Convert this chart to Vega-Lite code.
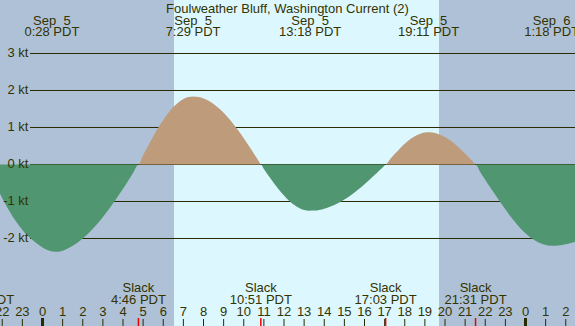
{
  "$schema": "https://vega.github.io/schema/vega-lite/v6.json",
  "width": 575,
  "height": 326,
  "autosize": {"type": "none"},
  "padding": 0,
  "background": "#afc1d6",
  "config": {
    "view": {"stroke": null},
    "text": {"font": "Liberation Sans", "fontSize": 13, "color": "#333300"}
  },
  "data": {"values": [
      {"t": -2.95, "v": 0}, {"t": -2.75, "v": -0.12}, {"t": -2.5, "v": -0.38}, {"t": -2.25, "v": -0.64},
      {"t": -2.0, "v": -0.91}, {"t": -1.75, "v": -1.16}, {"t": -1.5, "v": -1.39}, {"t": -1.25, "v": -1.59},
      {"t": -1.0, "v": -1.77}, {"t": -0.75, "v": -1.92}, {"t": -0.5, "v": -2.04}, {"t": -0.25, "v": -2.15},
      {"t": 0, "v": -2.24}, {"t": 0.25, "v": -2.31}, {"t": 0.5, "v": -2.35}, {"t": 0.75, "v": -2.355},
      {"t": 1.0, "v": -2.33}, {"t": 1.25, "v": -2.27}, {"t": 1.5, "v": -2.194}, {"t": 1.75, "v": -2.105},
      {"t": 2.0, "v": -2.0}, {"t": 2.25, "v": -1.877}, {"t": 2.5, "v": -1.738}, {"t": 2.75, "v": -1.586},
      {"t": 3.0, "v": -1.42}, {"t": 3.25, "v": -1.241}, {"t": 3.5, "v": -1.053}, {"t": 3.75, "v": -0.857},
      {"t": 4.0, "v": -0.653}, {"t": 4.25, "v": -0.443}, {"t": 4.5, "v": -0.23}, {"t": 4.767, "v": 0},
      {"t": 5.0, "v": 0.247}, {"t": 5.25, "v": 0.507}, {"t": 5.5, "v": 0.757}, {"t": 5.75, "v": 0.991},
      {"t": 6.0, "v": 1.204}, {"t": 6.25, "v": 1.392}, {"t": 6.5, "v": 1.551}, {"t": 6.75, "v": 1.677},
      {"t": 7.0, "v": 1.769}, {"t": 7.25, "v": 1.823}, {"t": 7.5, "v": 1.84}, {"t": 7.75, "v": 1.826},
      {"t": 8.0, "v": 1.787}, {"t": 8.25, "v": 1.724}, {"t": 8.5, "v": 1.637}, {"t": 8.75, "v": 1.528},
      {"t": 9.0, "v": 1.398}, {"t": 9.25, "v": 1.249}, {"t": 9.5, "v": 1.084}, {"t": 9.75, "v": 0.904},
      {"t": 10.0, "v": 0.71}, {"t": 10.25, "v": 0.508}, {"t": 10.5, "v": 0.3}, {"t": 10.75, "v": 0.086},
      {"t": 10.85, "v": 0}, {"t": 11.0, "v": -0.12}, {"t": 11.25, "v": -0.317}, {"t": 11.5, "v": -0.506},
      {"t": 11.75, "v": -0.682}, {"t": 12.0, "v": -0.84}, {"t": 12.25, "v": -0.977}, {"t": 12.5, "v": -1.089},
      {"t": 12.75, "v": -1.173}, {"t": 13.0, "v": -1.227}, {"t": 13.25, "v": -1.249}, {"t": 13.5, "v": -1.246},
      {"t": 13.75, "v": -1.228}, {"t": 14.0, "v": -1.197}, {"t": 14.25, "v": -1.152}, {"t": 14.5, "v": -1.095},
      {"t": 14.75, "v": -1.026}, {"t": 15.0, "v": -0.946}, {"t": 15.25, "v": -0.856}, {"t": 15.5, "v": -0.756},
      {"t": 15.75, "v": -0.647}, {"t": 16.0, "v": -0.532}, {"t": 16.25, "v": -0.412}, {"t": 16.5, "v": -0.285},
      {"t": 16.75, "v": -0.157}, {"t": 17.0, "v": -0.026}, {"t": 17.05, "v": 0}, {"t": 17.25, "v": 0.128},
      {"t": 17.5, "v": 0.283}, {"t": 17.75, "v": 0.429}, {"t": 18.0, "v": 0.56}, {"t": 18.25, "v": 0.673},
      {"t": 18.5, "v": 0.762}, {"t": 18.75, "v": 0.826}, {"t": 19.0, "v": 0.862}, {"t": 19.25, "v": 0.869},
      {"t": 19.5, "v": 0.85}, {"t": 19.75, "v": 0.807}, {"t": 20.0, "v": 0.742}, {"t": 20.25, "v": 0.655},
      {"t": 20.5, "v": 0.55}, {"t": 20.75, "v": 0.429}, {"t": 21.0, "v": 0.296}, {"t": 21.25, "v": 0.155},
      {"t": 21.5, "v": 0.01}, {"t": 21.517, "v": 0}, {"t": 21.75, "v": -0.2}, {"t": 22.0, "v": -0.41},
      {"t": 22.25, "v": -0.62}, {"t": 22.5, "v": -0.82}, {"t": 22.75, "v": -1.02}, {"t": 23.0, "v": -1.21},
      {"t": 23.25, "v": -1.4}, {"t": 23.5, "v": -1.57}, {"t": 23.75, "v": -1.73}, {"t": 24.0, "v": -1.86},
      {"t": 24.25, "v": -1.97}, {"t": 24.5, "v": -2.06}, {"t": 24.75, "v": -2.13}, {"t": 25.0, "v": -2.175},
      {"t": 25.25, "v": -2.197}, {"t": 25.5, "v": -2.197}, {"t": 25.75, "v": -2.182}, {"t": 26.0, "v": -2.155},
      {"t": 26.25, "v": -2.12}, {"t": 26.5, "v": -2.08}
  ]},
  "layer": [
    {
      "data": {"values": [{"start": 6.534, "end": 19.702}]},
      "mark": {"type": "rect", "color": "#ddf7ff"},
      "encoding": {
        "x": {"field": "start", "type": "quantitative", "axis": null,
              "scale": {"domain": [-2.1118, 26.4596], "nice": false, "zero": false}},
        "x2": {"field": "end"}
      }
    },
    {
      "data": {"values": [
        {"v": 3, "label": "3 kt"}, {"v": 2, "label": "2 kt"}, {"v": 1, "label": "1 kt"},
        {"v": 0, "label": "0 kt"}, {"v": -1, "label": "-1 kt"}, {"v": -2, "label": "-2 kt"}
      ]},
      "mark": {"type": "rule", "color": "#2a2a00", "strokeWidth": 1},
      "encoding": {
        "y": {"field": "v", "type": "quantitative", "axis": null,
              "scale": {"domain": [-4.3649, 4.4459], "nice": false, "zero": false}},
        "x": {"datum": -0.6211, "type": "quantitative", "axis": null},
        "x2": {"datum": 26.4596}
      }
    },
    {
      "transform": [{"filter": "datum.v >= 0"}],
      "mark": {"type": "area", "interpolate": "monotone", "color": "#be9b7a", "clip": true},
      "encoding": {
        "x": {"field": "t", "type": "quantitative", "axis": null},
        "y": {"field": "v", "type": "quantitative", "axis": null},
        "y2": {"datum": 0}
      }
    },
    {
      "transform": [{"filter": "datum.v <= 0"}],
      "mark": {"type": "area", "interpolate": "monotone", "color": "#509670", "clip": true},
      "encoding": {
        "x": {"field": "t", "type": "quantitative", "axis": null},
        "y": {"field": "v", "type": "quantitative", "axis": null},
        "y2": {"datum": 0}
      }
    },
    {
      "data": {"values": [
        {"v": 3, "label": "3 kt"}, {"v": 2, "label": "2 kt"}, {"v": 1, "label": "1 kt"},
        {"v": 0, "label": "0 kt"}, {"v": -1, "label": "-1 kt"}, {"v": -2, "label": "-2 kt"}
      ]},
      "mark": {"type": "text", "align": "right", "baseline": "alphabetic", "dy": 3.2,
               "font": "Liberation Sans", "fontSize": 13, "color": "#333300"},
      "encoding": {
        "x": {"datum": -0.6957, "type": "quantitative", "axis": null},
        "y": {"field": "v", "type": "quantitative", "axis": null},
        "text": {"field": "label"}
      }
    },
    {
      "data": {"values": [{"label": "Foulweather Bluff, Washington Current (2)"}]},
      "mark": {"type": "text", "align": "center", "baseline": "alphabetic",
               "font": "Liberation Sans", "fontSize": 13, "color": "#333300"},
      "encoding": {
        "x": {"datum": 12.174, "type": "quantitative", "axis": null},
        "y": {"datum": 4.1, "type": "quantitative", "axis": null},
        "text": {"field": "label"}
      }
    },
    {
      "data": {"values": [
        {"t": -2, "label": "22", "midnight": false}, {"t": -1, "label": "23", "midnight": false},
        {"t": 0, "label": "0", "midnight": true}, {"t": 1, "label": "1", "midnight": false},
        {"t": 2, "label": "2", "midnight": false}, {"t": 3, "label": "3", "midnight": false},
        {"t": 4, "label": "4", "midnight": false}, {"t": 5, "label": "5", "midnight": false},
        {"t": 6, "label": "6", "midnight": false}, {"t": 7, "label": "7", "midnight": false},
        {"t": 8, "label": "8", "midnight": false}, {"t": 9, "label": "9", "midnight": false},
        {"t": 10, "label": "10", "midnight": false}, {"t": 11, "label": "11", "midnight": false},
        {"t": 12, "label": "12", "midnight": false}, {"t": 13, "label": "13", "midnight": false},
        {"t": 14, "label": "14", "midnight": false}, {"t": 15, "label": "15", "midnight": false},
        {"t": 16, "label": "16", "midnight": false}, {"t": 17, "label": "17", "midnight": false},
        {"t": 18, "label": "18", "midnight": false}, {"t": 19, "label": "19", "midnight": false},
        {"t": 20, "label": "20", "midnight": false}, {"t": 21, "label": "21", "midnight": false},
        {"t": 22, "label": "22", "midnight": false}, {"t": 23, "label": "23", "midnight": false},
        {"t": 24, "label": "0", "midnight": true}, {"t": 25, "label": "1", "midnight": false},
        {"t": 26, "label": "2", "midnight": false}
      ]},
      "layer": [
        {
          "transform": [{"filter": "!datum.midnight"}],
          "mark": {"type": "rule", "color": "#2a2a00", "strokeWidth": 1},
          "encoding": {
            "x": {"field": "t", "type": "quantitative", "axis": null},
            "y": {"datum": -4.1757, "type": "quantitative", "axis": null},
            "y2": {"datum": -4.3649}
          }
        },
        {
          "transform": [{"filter": "datum.midnight"}],
          "mark": {"type": "rule", "color": "#2a2a00", "strokeWidth": 3},
          "encoding": {
            "x": {"field": "t", "type": "quantitative", "axis": null},
            "y": {"datum": -4.1486, "type": "quantitative", "axis": null},
            "y2": {"datum": -4.3649}
          }
        },
        {
          "mark": {"type": "text", "align": "center", "baseline": "alphabetic",
                   "font": "Liberation Sans", "fontSize": 13, "color": "#333300"},
          "encoding": {
            "x": {"field": "t", "type": "quantitative", "axis": null},
            "y": {"datum": -4.1081, "type": "quantitative", "axis": null},
            "text": {"field": "label"}
          }
        }
      ]
    },
    {
      "data": {"values": [
        {"t": -2.95, "time": "21:03 PDT"}, {"t": 4.767, "time": "4:46 PDT"},
        {"t": 10.85, "time": "10:51 PDT"}, {"t": 17.05, "time": "17:03 PDT"},
        {"t": 21.517, "time": "21:31 PDT"}
      ]},
      "layer": [
        {
          "mark": {"type": "rule", "color": "#ee0000", "strokeWidth": 1.5},
          "encoding": {
            "x": {"field": "t", "type": "quantitative", "axis": null},
            "y": {"datum": -4.1486, "type": "quantitative", "axis": null},
            "y2": {"datum": -4.3649}
          }
        },
        {
          "mark": {"type": "text", "align": "center", "baseline": "alphabetic",
                   "font": "Liberation Sans", "fontSize": 13, "color": "#333300"},
          "encoding": {
            "x": {"field": "t", "type": "quantitative", "axis": null},
            "y": {"datum": -3.4459, "type": "quantitative", "axis": null},
            "text": {"value": "Slack"}
          }
        },
        {
          "mark": {"type": "text", "align": "center", "baseline": "alphabetic", "dy": 12.3,
                   "font": "Liberation Sans", "fontSize": 13, "color": "#333300"},
          "encoding": {
            "x": {"field": "t", "type": "quantitative", "axis": null},
            "y": {"datum": -3.4459, "type": "quantitative", "axis": null},
            "text": {"field": "time"}
          }
        }
      ]
    },
    {
      "data": {"values": [
        {"t": 0.467, "date": "Sep\u00a0 5", "time": "0:28 PDT"},
        {"t": 7.483, "date": "Sep\u00a0 5", "time": "7:29 PDT"},
        {"t": 13.3, "date": "Sep\u00a0 5", "time": "13:18 PDT"},
        {"t": 19.183, "date": "Sep\u00a0 5", "time": "19:11 PDT"},
        {"t": 25.3, "date": "Sep\u00a0 6", "time": "1:18 PDT"}
      ]},
      "layer": [
        {
          "mark": {"type": "text", "align": "center", "baseline": "alphabetic",
                   "font": "Liberation Sans", "fontSize": 13, "color": "#333300"},
          "encoding": {
            "x": {"field": "t", "type": "quantitative", "axis": null},
            "y": {"datum": 3.7815, "type": "quantitative", "axis": null},
            "text": {"field": "date"}
          }
        },
        {
          "mark": {"type": "text", "align": "center", "baseline": "alphabetic", "dy": 11.7,
                   "font": "Liberation Sans", "fontSize": 13, "color": "#333300"},
          "encoding": {
            "x": {"field": "t", "type": "quantitative", "axis": null},
            "y": {"datum": 3.7815, "type": "quantitative", "axis": null},
            "text": {"field": "time"}
          }
        }
      ]
    }
  ]
}
